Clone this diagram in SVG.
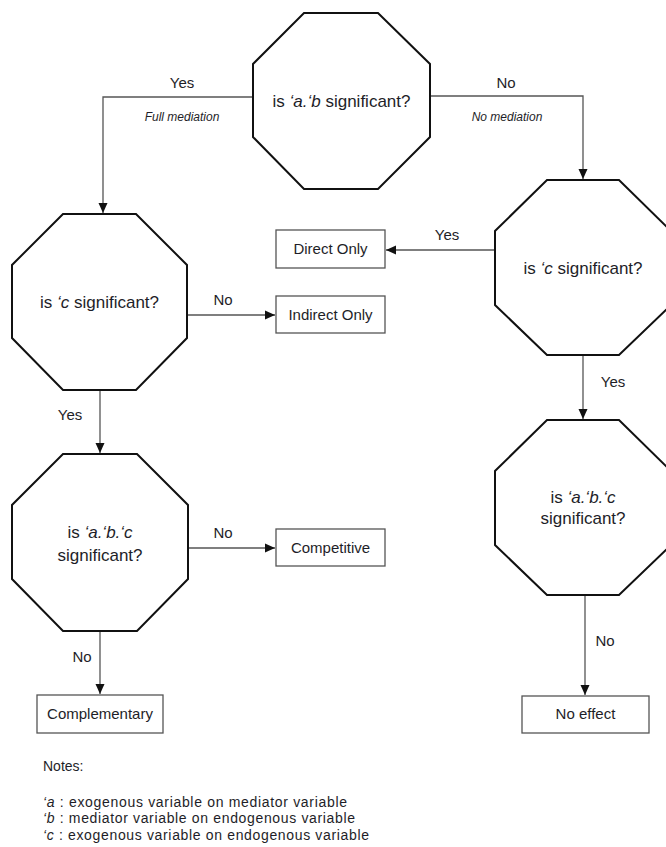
<svg xmlns="http://www.w3.org/2000/svg" width="666" height="847" viewBox="0 0 666 847">
<style>
text{font-family:"Liberation Sans",Arial,sans-serif;fill:#1e1e28}
.oct{fill:#fff;stroke:#111;stroke-width:2}
.box{fill:#fff;stroke:#555;stroke-width:1.3}
.con{fill:none;stroke:#555;stroke-width:1.3}
.q{font-size:17px;text-anchor:middle}
.b{font-size:15px;text-anchor:middle}
.l{font-size:15px;text-anchor:middle}
.s{font-size:12px;font-style:italic;text-anchor:middle}
.n{font-size:14px}
.i{font-style:italic}
</style>
<defs>
<marker id="ah" viewBox="0 0 10 10" refX="10" refY="5" markerWidth="10" markerHeight="10" markerUnits="userSpaceOnUse" orient="auto">
<path d="M0,0.5 L10,5 L0,9.5 z" fill="#111"/>
</marker>
</defs>
<g id="connectors">
<polyline class="con" points="253,97 103,97 103,213" marker-end="url(#ah)"/>
<polyline class="con" points="430,96 583,96 583,179" marker-end="url(#ah)"/>
<line class="con" x1="495" y1="250" x2="386" y2="250" marker-end="url(#ah)"/>
<line class="con" x1="187" y1="315" x2="275" y2="315" marker-end="url(#ah)"/>
<line class="con" x1="100" y1="390" x2="100" y2="453" marker-end="url(#ah)"/>
<line class="con" x1="583" y1="355" x2="583" y2="419" marker-end="url(#ah)"/>
<line class="con" x1="188" y1="548" x2="275" y2="548" marker-end="url(#ah)"/>
<line class="con" x1="100" y1="631" x2="100" y2="694" marker-end="url(#ah)"/>
<line class="con" x1="585" y1="595" x2="585" y2="695" marker-end="url(#ah)"/>
<text class="l" x="182" y="88">Yes</text>
<text class="s" x="182" y="121">Full mediation</text>
<text class="l" x="506" y="88">No</text>
<text class="s" x="507" y="121">No mediation</text>
<text class="l" x="447" y="240">Yes</text>
<text class="l" x="223" y="305">No</text>
<text class="l" x="70" y="420">Yes</text>
<text class="l" x="613" y="387">Yes</text>
<text class="l" x="223" y="538">No</text>
<text class="l" x="82" y="662">No</text>
<text class="l" x="605" y="646">No</text>
</g>
<g id="q1">
<polygon class="oct" points="304,13 378,13 430,64 430,137 378,189 304,189 253,137 253,64"/>
<text class="q" x="341.5" y="107">is <tspan class="i">‘a.‘b</tspan> significant?</text>
</g>
<g id="q2">
<polygon class="oct" points="63,214 136,214 187,265 187,338 136,390 63,390 12,338 12,265"/>
<text class="q" x="99.5" y="308">is <tspan class="i">‘c</tspan> significant?</text>
</g>
<g id="q3">
<polygon class="oct" points="547,180 619,180 671,231 671,305 619,355 547,355 495,305 495,231"/>
<text class="q" x="583" y="274">is <tspan class="i">‘c</tspan> significant?</text>
</g>
<g id="q4">
<polygon class="oct" points="63,454 137,454 188,505 188,579 137,631 63,631 12,579 12,505"/>
<text class="q" x="100" y="538">is <tspan class="i">‘a.‘b.‘c</tspan></text>
<text class="q" x="100" y="561">significant?</text>
</g>
<g id="q5">
<polygon class="oct" points="547,420 619,420 671,471 671,545 619,595 547,595 495,545 495,471"/>
<text class="q" x="583" y="503">is <tspan class="i">‘a.‘b.‘c</tspan></text>
<text class="q" x="583" y="524">significant?</text>
</g>
<g id="direct">
<rect class="box" x="276" y="230" width="109" height="38"/>
<text class="b" x="330.5" y="254">Direct Only</text>
</g>
<g id="indirect">
<rect class="box" x="276" y="296" width="109" height="37"/>
<text class="b" x="330.5" y="320">Indirect Only</text>
</g>
<g id="competitive">
<rect class="box" x="276" y="529" width="109" height="37"/>
<text class="b" x="330.5" y="553">Competitive</text>
</g>
<g id="complementary">
<rect class="box" x="37" y="695" width="126" height="38"/>
<text class="b" x="100" y="719">Complementary</text>
</g>
<g id="noeffect">
<rect class="box" x="522" y="696" width="127" height="37"/>
<text class="b" x="585.5" y="719">No effect</text>
</g>
<g id="notes">
<text class="n" x="43" y="771">Notes:</text>
<text class="n" x="43" y="807" textLength="304" lengthAdjust="spacing"><tspan class="i">‘a</tspan> : exogenous variable on mediator variable</text>
<text class="n" x="43" y="823" textLength="312" lengthAdjust="spacing"><tspan class="i">‘b</tspan> : mediator variable on endogenous variable</text>
<text class="n" x="43" y="840" textLength="326" lengthAdjust="spacing"><tspan class="i">‘c</tspan> : exogenous variable on endogenous variable</text>
</g>
</svg>
